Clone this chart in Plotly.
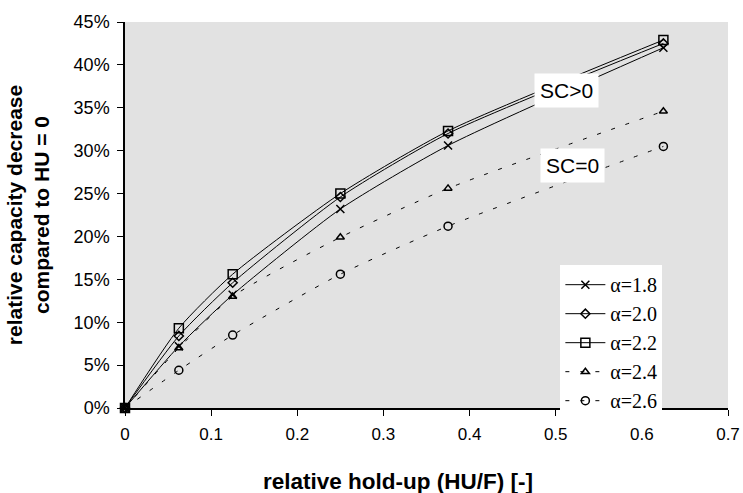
import plotly.graph_objects as go

hold_up = [0, 0.0625, 0.125, 0.25, 0.375, 0.625]
alpha_labels = ["α=1.8", "α=2.0", "α=2.2", "α=2.4", "α=2.6"]
cap_18 = [0, 7.2, 13.2, 23.2, 30.6, 42.0]
cap_20 = [0, 8.4, 14.6, 24.6, 32.0, 42.5]
cap_22 = [0, 9.3, 15.6, 25.0, 32.3, 42.9]
cap_24 = [0, 7.0, 13.0, 19.9, 25.6, 34.6]
cap_26 = [0, 4.4, 8.5, 15.6, 21.2, 30.5]
x_ticks = [0, 0.1, 0.2, 0.3, 0.4, 0.5, 0.6, 0.7]
y_ticks = [0, 5, 10, 15, 20, 25, 30, 35, 40, 45]

series = [
    (cap_18, "x-thin-open", 8, "solid"),
    (cap_20, "diamond-open", 7, "solid"),
    (cap_22, "square-open", 9, "solid"),
    (cap_24, "triangle-up-open", 7, "4px,11px"),
    (cap_26, "circle-open", 8, "4px,11px"),
]

fig = go.Figure()

for (vals, sym, sz, dash), name in zip(series, alpha_labels):
    fig.add_trace(go.Scatter(
        x=hold_up, y=vals, name=name, mode="lines+markers",
        line=dict(color="black", width=1, dash=dash, shape="spline", smoothing=0.6),
        marker=dict(symbol=sym, size=sz, color="black", line=dict(color="black", width=1.5)),
        cliponaxis=False))

fig.add_annotation(x=0.513, y=37.0, text="SC>0", showarrow=False,
                   font=dict(family="Liberation Sans", size=21, color="black"),
                   bgcolor="white", borderpad=5)
fig.add_annotation(x=0.519, y=28.3, text="SC=0", showarrow=False,
                   font=dict(family="Liberation Sans", size=21, color="black"),
                   bgcolor="white", borderpad=5)
fig.add_annotation(xref="paper", yref="paper", x=0.453, y=-0.19, xanchor="center", yanchor="middle",
                   text="<b>relative hold-up (HU/F) [-]</b>", showarrow=False,
                   font=dict(family="Liberation Sans", size=22.5, color="black"))

fig.update_layout(
    width=743, height=493,
    margin=dict(l=125, r=15, t=22, b=85),
    paper_bgcolor="white", plot_bgcolor="#e2e2e2",
    font=dict(family="Liberation Sans", color="black"),
    legend=dict(x=0.722, y=0.37, xanchor="left", yanchor="top",
                bgcolor="white", borderwidth=0,
                font=dict(family="Liberation Serif", size=20, color="black"),
                tracegroupgap=0, itemwidth=40),
    xaxis=dict(range=[0, 0.7], tickvals=x_ticks, ticktext=[str(t) if t else "0" for t in x_ticks],
               showgrid=False, zeroline=False, showline=True, linecolor="black", linewidth=1.5,
               ticks="outside", ticklen=6, tickcolor="black", ticklabelstandoff=4,
               tickfont=dict(size=17), automargin=False),
    yaxis=dict(range=[0, 45], tickvals=y_ticks, ticktext=[f"{t}%" for t in y_ticks],
               showgrid=False, zeroline=False, showline=True, linecolor="black", linewidth=1.5,
               ticks="outside", ticklen=6, tickcolor="black", ticklabelstandoff=4,
               tickfont=dict(size=18), automargin=False,
               title=dict(text="<b>relative capacity decrease<br>compared to HU = 0</b>", font=dict(size=21), standoff=18)),
)

fig.write_html("out.html")
